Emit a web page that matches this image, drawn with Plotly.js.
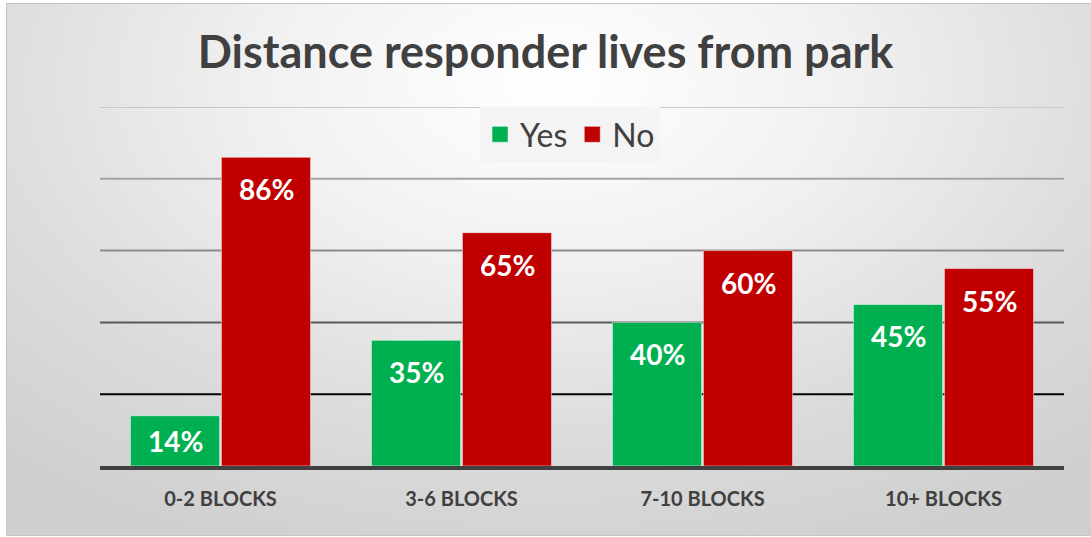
<!DOCTYPE html>
<html>
<head>
<meta charset="utf-8">
<script src="https://cdn.plot.ly/plotly-3.0.1.min.js"></script>
<style>
  html, body { margin:0; padding:0; width:1091px; height:537px; overflow:hidden; background:#fff; }
  #bg { position:absolute; left:6px; top:3px; width:1090px; height:531px;
        border:1px solid #c4c4c4;
        background: radial-gradient(ellipse 75% 95% at 50% 15%, #ffffff 0%, #f1f1f1 35%, #dcdcdc 70%, #cfcfcf 100%); }
  #chart { position:absolute; left:0; top:0; width:1091px; height:537px; }
</style>
</head>
<body>
<div id="bg"></div>
<div id="chart"></div>
<script>
const categories = ["0-2 BLOCKS", "3-6 BLOCKS", "7-10 BLOCKS", "10+ BLOCKS"];
const yesValues = [14, 35, 40, 45];
const noValues = [86, 65, 60, 55];
const gridValues = [20, 40, 60, 80, 100];
const gridColors = ["#000000", "#5a5a5a", "#8c8c8c", "#a4a4a4", "#c8c8c8"];

const GREEN = "#00b050", RED = "#c00000";
const FONT = "Lato, 'Open Sans', sans-serif";

const traces = [
  { type:"bar", name:"Yes", x:categories, y:yesValues, marker:{color:GREEN, line:{color:"rgba(255,255,255,0.5)", width:1}}, showlegend:false, hoverinfo:"skip" },
  { type:"bar", name:"No", x:categories, y:noValues, marker:{color:RED, line:{color:"rgba(255,255,255,0.5)", width:1}}, showlegend:false, hoverinfo:"skip" },
  { type:"scatter", mode:"markers", name:"Yes", x:[null], y:[null], marker:{symbol:"square", size:20, color:GREEN, line:{color:"rgba(255,255,255,0.5)", width:1}} },
  { type:"scatter", mode:"markers", name:"No", x:[null], y:[null], marker:{symbol:"square", size:20, color:RED, line:{color:"rgba(255,255,255,0.5)", width:1}} }
];

const plotH = 359;
const annotations = [];
[[yesValues, -45.5], [noValues, 46]].forEach(([vals, dx]) => {
  vals.forEach((v, i) => {
    const hPx = v / 100 * plotH;
    annotations.push({ x:categories[i], y:v, xref:"x", yref:"y", text:v + "%", showarrow:false,
      xshift:dx, yshift:-Math.min(32, hPx/2), font:{family:FONT, size:28, color:"#ffffff", weight:700} });
  });
});

const shapes = gridValues.map((g, i) => ({ type:"line", xref:"paper", yref:"y", x0:0, x1:1, y0:g, y1:g,
  line:{color:gridColors[i], width:2}, layer:"below" }));

const layout = {
  width:1091, height:537,
  margin:{l:100, r:27, t:107, b:71},
  paper_bgcolor:"rgba(0,0,0,0)", plot_bgcolor:"rgba(0,0,0,0)",
  title:{ text:"Distance responder lives from park", x:0.5, xanchor:"center", y:1-52/537, yanchor:"middle", yref:"container",
    font:{family:FONT, size:45, color:"#404040", weight:700} },
  barmode:"group", bargap:0.245, bargroupgap:0.02,
  xaxis:{ type:"category", showgrid:false, showline:true, linecolor:"#404040", linewidth:4, ticks:"",
    tickfont:{family:FONT, size:20, color:"#404040", weight:700}, ticklabelstandoff:12, fixedrange:true },
  yaxis:{ range:[0,100], showgrid:false, showticklabels:false, zeroline:false, showline:false, ticks:"", fixedrange:true },
  legend:{ orientation:"h", x:0.4876, xanchor:"center", y:1.0, yanchor:"top", bgcolor:"#f4f4f4",
    font:{family:FONT, size:32, color:"#404040"}, itemwidth:30, tracegroupgap:0 },
  annotations, shapes, showlegend:true
};

Plotly.newPlot("chart", traces, layout, {displayModeBar:false, staticPlot:true});
</script>
</body>
</html>
